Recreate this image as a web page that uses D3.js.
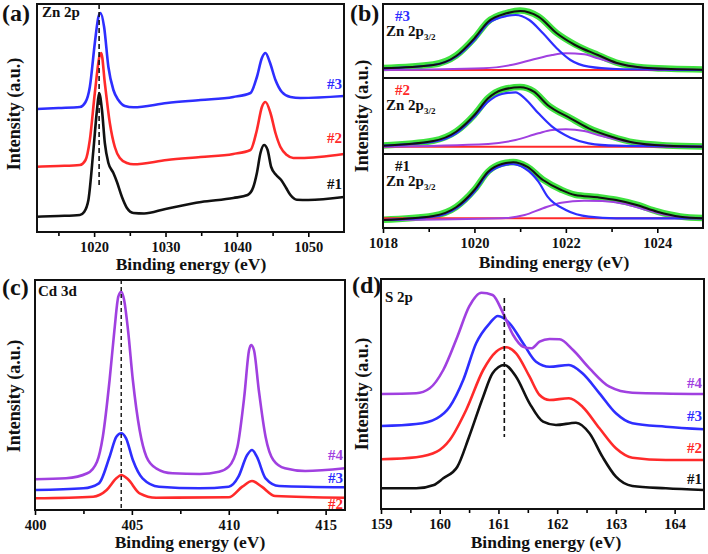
<!DOCTYPE html>
<html>
<head>
<meta charset="utf-8">
<script src="https://cdn.jsdelivr.net/npm/d3@7"></script>
<style>
body { margin: 0; background: #fff; }
text { font-family: "Liberation Serif", "Times New Roman", serif; font-weight: bold; }
</style>
</head>
<body>
<div id="vis"></div>
<script>
// ---- data (binding energy eV, intensity a.u.) ----

// (a) Zn 2p survey
var znA1 = [[1012,15.3],[1015,16],[1018,17],[1018.6,20],[1019.2,32],[1019.9,82],[1020.4,122],[1020.7,139],[1021.1,122],[1021.5,89],[1022.0,69],[1022.7,59],[1023.2,50],[1023.9,35],[1024.6,24],[1025.5,19],[1027,18.5],[1030,23],[1035,30],[1039.5,34],[1041.5,37],[1042.3,45],[1042.8,59],[1043.3,79],[1043.8,87],[1044.3,82],[1044.8,65],[1045.5,57],[1046.2,52],[1046.9,44],[1047.5,37],[1048.4,32.3],[1050,32],[1055,35]];
var znA2 = [[1012,65.3],[1015,66],[1018,67],[1018.8,72],[1019.4,92],[1020.1,139],[1020.8,177],[1021.0,179],[1021.5,149],[1022.2,109],[1022.9,85],[1023.6,74],[1024.6,69],[1025.5,67.7],[1030.2,72],[1034.9,75],[1039.5,78],[1041.9,82],[1042.8,102],[1043.5,125],[1044.0,130],[1044.7,119],[1045.4,99],[1046.1,85],[1047.0,77],[1047.9,74],[1048.9,74],[1055,78]];
var znA3 = [[1012,123],[1015,124],[1018,125],[1018.8,130],[1019.4,145],[1020.1,189],[1020.6,215],[1020.9,219],[1021.4,205],[1022.0,165],[1022.7,142],[1023.4,132],[1024.3,126],[1025.5,124.7],[1030.2,129],[1034.9,132],[1039.5,135],[1041.9,139],[1042.8,155],[1043.5,174],[1044.0,179],[1044.6,170],[1045.4,152],[1046.3,140],[1047.5,135],[1048.9,134],[1055,136]];
var dashA = 1020.7;

// (b) Zn 2p3/2 fits, sample #3 (top)
var b3Data = [[1018,10],[1019.1,13.5],[1019.6,22.5],[1020.0,40],[1020.3,56.5],[1020.7,65],[1021.0,67.5],[1021.4,61.5],[1021.8,45],[1022.2,33.5],[1022.7,23],[1023.1,15.5],[1023.7,10.5],[1024.3,9.2],[1025,8.5]];
var b3Fit = [[1018,9.7],[1019.1,13],[1019.6,22],[1020.0,39.7],[1020.3,56.3],[1020.7,64.7],[1021.0,67],[1021.4,61.3],[1021.8,44.7],[1022.2,33],[1022.7,23],[1023.1,15.3],[1023.7,10.3],[1024.3,9],[1025,8.3]];
var b3Main = [[1018,9.7],[1019.1,13],[1019.6,21.3],[1020.0,38],[1020.3,54.7],[1020.7,62],[1020.9,63],[1021.2,58],[1021.5,44.7],[1021.8,29.7],[1022.1,18],[1022.5,11.3],[1023.1,9],[1025,8]];
var b3Side = [[1018,8],[1020.2,9.7],[1020.8,13],[1021.3,18.7],[1021.7,23],[1022.0,24.7],[1022.4,23.7],[1022.7,19.7],[1023.1,14.7],[1023.7,10.3],[1025,8]];
var b3Base = [[1018,8],[1025,8]];

// (b) sample #2 (middle)
var b2Data = [[1018,8.6],[1019.1,13.3],[1019.6,22.6],[1020.0,39.3],[1020.3,56],[1020.6,64.3],[1021.0,67],[1021.3,62.5],[1021.6,49.3],[1022.1,36],[1022.5,26],[1023.0,17.5],[1023.5,11.5],[1024.2,8.6],[1025,7.6]];
var b2Fit = [[1018,8.3],[1019.1,13],[1019.6,22.3],[1020.0,39],[1020.3,55.7],[1020.6,64],[1021.0,66.7],[1021.3,62.3],[1021.6,49],[1022.1,35.7],[1022.5,25.7],[1023.0,17.3],[1023.5,11.3],[1024.2,8.3],[1025,7.3]];
var b2Main = [[1018,8.3],[1019.1,12.3],[1019.6,20.7],[1020.0,37.3],[1020.3,52.3],[1020.6,60],[1020.9,61.7],[1021.1,55.7],[1021.4,40.7],[1021.7,27.3],[1022.1,16.3],[1022.5,10.7],[1023.1,8.3],[1025,7.3]];
var b2Side = [[1018,7.3],[1020.3,10],[1020.9,14],[1021.4,20.7],[1021.7,24],[1022.0,24.7],[1022.4,23],[1022.7,19],[1023.1,14.7],[1023.7,10],[1025,7.3]];
var b2Base = [[1018,7.3],[1025,7.3]];

// (b) sample #1 (bottom)
var b1Data = [[1018,8.3],[1019.1,12.3],[1019.6,21],[1020.0,38.3],[1020.3,56.5],[1020.6,64.3],[1020.85,66],[1021.15,61.5],[1021.5,48.3],[1021.9,38.3],[1022.2,33.3],[1022.7,31],[1023.1,28.3],[1023.55,23.3],[1024.0,16.5],[1024.5,11.5],[1025,9.9]];
var b1Fit = [[1018,8],[1019.1,12],[1019.6,20.7],[1020.0,38],[1020.3,56.3],[1020.6,64],[1020.85,65.7],[1021.15,61.3],[1021.5,48],[1021.9,38],[1022.2,33],[1022.7,30.7],[1023.1,28],[1023.55,23],[1024.0,16.3],[1024.5,11.3],[1025,9.7]];
var b1Main = [[1018,8],[1019.1,11.3],[1019.6,19.7],[1020.0,36.3],[1020.3,54.7],[1020.6,62.3],[1020.8,64],[1021.1,59.7],[1021.4,46.3],[1021.6,31.3],[1022.0,18],[1022.5,11.3],[1023.1,9.7],[1025,9.7]];
var b1Side = [[1018,8],[1020.6,9.7],[1021.1,13],[1021.5,19.7],[1021.9,25.3],[1022.4,27.3],[1022.8,27],[1023.3,24],[1023.7,18.7],[1024.2,13],[1025,9.7]];
var b1Base = [[1018,9.7],[1025,9.7]];

// (c) Cd 3d
var cd4 = [[400,30.7],[401.6,31.7],[402.7,36.7],[403.2,48.3],[403.5,73.3],[403.85,130],[404.1,180],[404.3,213.3],[404.45,218.3],[404.6,210],[404.8,180],[405.05,130],[405.4,80],[405.75,53.3],[406.25,41.7],[407.1,36.7],[408.5,36],[409.5,38.3],[410.0,43.3],[410.45,63.3],[410.8,113.3],[411.05,160],[411.15,165],[411.3,160],[411.55,120],[411.9,73.3],[412.3,50],[412.9,41.7],[413.95,39],[416,41.7]];
var cd3 = [[400,20],[402.5,21.7],[403.3,26.7],[403.85,53.3],[404.2,73.3],[404.45,76.7],[404.7,71.7],[405.05,50],[405.55,31.7],[406.4,23.3],[408.5,21.7],[410.0,23.3],[410.5,33.3],[410.95,55],[411.2,60],[411.45,53.3],[411.9,31.7],[412.6,24],[416,22.7]];
var cd2 = [[400,11.7],[403,13.3],[403.7,20],[404.2,31.7],[404.45,35],[404.8,30.7],[405.4,16.7],[406.25,12.3],[410.0,12.7],[410.7,23.3],[411.2,29],[411.7,23.3],[412.4,14],[416,12.3]];
var dashC = 404.45;

// (d) S 2p
var s1 = [[159,20.7],[159.6,20.7],[159.9,24],[160.06,30.7],[160.3,42.3],[160.5,72.3],[160.74,112.3],[160.9,135.7],[161.1,144],[161.3,132.3],[161.53,105.7],[161.76,87.3],[161.98,84],[162.32,86.3],[162.55,75.7],[162.77,52.3],[163.0,32.3],[163.28,23],[163.85,20.7],[164.5,19]];
var s2 = [[159,49.7],[159.6,51.7],[159.95,57.3],[160.17,69],[160.45,99],[160.74,139],[160.96,157.3],[161.13,161.7],[161.3,155.7],[161.53,132.3],[161.7,114],[161.87,109],[162.2,110.7],[162.43,102.3],[162.72,80.7],[163.0,60.7],[163.28,51.3],[163.85,49],[164.5,49]];
var s3 = [[159,83],[159.6,85],[159.95,90.7],[160.17,102.3],[160.4,129],[160.62,165.7],[160.85,185.7],[160.99,193],[161.19,185.7],[161.42,165.7],[161.64,147.3],[161.87,142.3],[162.2,144],[162.43,135.7],[162.72,115.7],[163.0,95.7],[163.28,85.7],[163.85,82.3],[164.5,79.7]];
var s4 = [[159,115],[159.6,115.7],[159.83,120.7],[160.06,139],[160.3,172.3],[160.5,202.3],[160.71,216.3],[160.9,214],[161.08,195.7],[161.25,174],[161.42,162.3],[161.56,160.7],[161.7,167.3],[161.87,170],[162.04,169.7],[162.27,159],[162.55,140.7],[162.89,122.3],[163.28,116.3],[164.5,115]];
var dashD = 161.1;

// tick values
var ticksA = [1020, 1030, 1040, 1050], minorA = [1015, 1025, 1035, 1045];
var ticksB = [1018, 1020, 1022, 1024], minorB = [1019, 1021, 1023];
var ticksC = [400, 405, 410, 415], minorC = [402.5, 407.5, 412.5];
var ticksD = [159, 160, 161, 162, 163, 164], minorD = [159.5, 160.5, 161.5, 162.5, 163.5];

var BLACK = "#111", RED = "#ff2a2a", BLUE = "#2e2eff", PURPLE = "#a040e0", GREEN = "#3fe23f";

var svg = d3.select("#vis").append("svg")
  .attr("width", 708)
  .attr("height", 554);

// bottom axis with major + minor ticks, framed box
function axisAndFrame(x, top, bottom, major, minor) {
  var ax = svg.append("g")
    .attr("transform", `translate(0, ${bottom})`)
    .call(d3.axisBottom(x).tickValues(major).tickSize(5).tickPadding(5).tickFormat(d3.format("d")));
  ax.select(".domain").remove();
  ax.selectAll("line").attr("stroke-width", 1.6);
  ax.selectAll("text").style("font-size", "14.5px").attr("fill", "#111");

  var mn = svg.append("g")
    .attr("transform", `translate(0, ${bottom})`)
    .call(d3.axisBottom(x).tickValues(minor).tickSize(4).tickFormat(""));
  mn.select(".domain").remove();
  mn.selectAll("line").attr("stroke-width", 1.6);

  svg.append("rect")
    .attr("x", x.range()[0]).attr("y", top)
    .attr("width", x.range()[1] - x.range()[0]).attr("height", bottom - top)
    .attr("fill", "none").attr("stroke", "#111").attr("stroke-width", 2);
}

function clipGroup(id, x0, y0, x1, y1) {
  svg.append("clipPath").attr("id", id)
    .append("rect").attr("x", x0).attr("y", y0).attr("width", x1 - x0).attr("height", y1 - y0);
  return svg.append("g").attr("clip-path", `url(#${id})`);
}

function drawLine(g, x, y, data, color, w) {
  var line = d3.line()
    .x(d => x(d[0]))
    .y(d => y(d[1]))
    .curve(d3.curveMonotoneX);
  g.append("path")
    .datum(data)
    .attr("d", line)
    .attr("fill", "none")
    .attr("stroke", color)
    .attr("stroke-width", w)
    .attr("stroke-linejoin", "round")
    .attr("stroke-linecap", "round");
}

function label(x, y, str, size, color, anchor) {
  return svg.append("text")
    .attr("x", x).attr("y", y)
    .attr("text-anchor", anchor || "start")
    .attr("fill", color || "#111")
    .style("font-size", size + "px")
    .text(str);
}

function yTitle(x, cy) {
  svg.append("text")
    .attr("transform", `translate(${x}, ${cy}) rotate(-90)`)
    .attr("text-anchor", "middle")
    .attr("fill", "#111")
    .style("font-size", "18px")
    .text("Intensity (a.u.)");
}

// ---------- (a) ----------
var xa = d3.scaleLinear().domain([1012, 1055]).range([37, 344]);
var ya = d3.scaleLinear().domain([0, 228]).range([232, 4]);
var ga = clipGroup("clipA", 37, 4, 344, 232);
drawLine(ga, xa, ya, znA1, BLACK, 2.6);
drawLine(ga, xa, ya, znA2, RED, 2.6);
drawLine(ga, xa, ya, znA3, BLUE, 2.6);
ga.append("line")
  .attr("x1", xa(dashA)).attr("x2", xa(dashA))
  .attr("y1", 4).attr("y2", 186)
  .attr("stroke", "#111").attr("stroke-width", 1.6).attr("stroke-dasharray", "5,3");
axisAndFrame(xa, 4, 232, ticksA, minorA);
label(2, 21, "(a)", 24);
label(42, 17, "Zn 2p", 15);
label(342, 89, "#3", 15, BLUE, "end");
label(342, 143, "#2", 15, RED, "end");
label(342, 189, "#1", 15, BLACK, "end");
yTitle(20, 114);
label(191, 270, "Binding energy (eV)", 17.5, "#111", "middle");

// ---------- (b) ----------
var xb = d3.scaleLinear().domain([1018, 1025]).range([383, 703]);
var subs = [
  {t: 4, b: 78, data: b3Data, fit: b3Fit, main: b3Main, side: b3Side, base: b3Base, name: "#3", col: BLUE},
  {t: 78, b: 154, data: b2Data, fit: b2Fit, main: b2Main, side: b2Side, base: b2Base, name: "#2", col: RED},
  {t: 154, b: 228, data: b1Data, fit: b1Fit, main: b1Main, side: b1Side, base: b1Base, name: "#1", col: BLACK}
];
subs.forEach(function(s, i) {
  var yb = d3.scaleLinear().domain([0, s.b - s.t]).range([s.b, s.t]);
  var gb = clipGroup("clipB" + i, 383, s.t, 703, s.b);
  drawLine(gb, xb, yb, s.data, GREEN, 6.5);
  drawLine(gb, xb, yb, s.base, RED, 2);
  drawLine(gb, xb, yb, s.side, PURPLE, 2);
  drawLine(gb, xb, yb, s.main, BLUE, 2.2);
  drawLine(gb, xb, yb, s.fit, BLACK, 2);
  label(395, s.t + 17, s.name, 15, s.col);
  var z = label(386, s.t + 32, "Zn 2p", 15);
  z.append("tspan").attr("dy", 4).style("font-size", "9px").text("3/2");
  if (i > 0) {
    svg.append("line").attr("x1", 383).attr("x2", 703).attr("y1", s.t).attr("y2", s.t)
      .attr("stroke", "#111").attr("stroke-width", 2);
  }
});
axisAndFrame(xb, 4, 228, ticksB, minorB);
label(350, 21, "(b)", 24);
yTitle(368, 116);
label(554, 268, "Binding energy (eV)", 17.5, "#111", "middle");

// ---------- (c) ----------
var xc = d3.scaleLinear().domain([400, 416]).range([35, 345]);
var yc = d3.scaleLinear().domain([0, 230]).range([510, 280]);
var gc = clipGroup("clipC", 35, 280, 345, 510);
drawLine(gc, xc, yc, cd2, RED, 2.6);
drawLine(gc, xc, yc, cd3, BLUE, 2.6);
drawLine(gc, xc, yc, cd4, PURPLE, 2.6);
gc.append("line")
  .attr("x1", xc(dashC)).attr("x2", xc(dashC))
  .attr("y1", 280).attr("y2", 510)
  .attr("stroke", "#111").attr("stroke-width", 1.4).attr("stroke-dasharray", "4,3");
axisAndFrame(xc, 280, 510, ticksC, minorC);
label(2, 295, "(c)", 24);
label(38, 296, "Cd 3d", 15);
label(343, 460, "#4", 15, PURPLE, "end");
label(343, 483, "#3", 15, BLUE, "end");
label(343, 509, "#2", 15, RED, "end");
yTitle(20, 396);
label(190, 548, "Binding energy (eV)", 17.5, "#111", "middle");

// ---------- (d) ----------
var xd = d3.scaleLinear().domain([159, 164.5]).range([381, 704]);
var yd = d3.scaleLinear().domain([0, 230]).range([509, 279]);
var gd = clipGroup("clipD", 381, 279, 704, 509);
drawLine(gd, xd, yd, s1, BLACK, 2.6);
drawLine(gd, xd, yd, s2, RED, 2.6);
drawLine(gd, xd, yd, s3, BLUE, 2.6);
drawLine(gd, xd, yd, s4, PURPLE, 2.6);
gd.append("line")
  .attr("x1", xd(dashD)).attr("x2", xd(dashD))
  .attr("y1", 298).attr("y2", 437)
  .attr("stroke", "#111").attr("stroke-width", 1.6).attr("stroke-dasharray", "5,3");
axisAndFrame(xd, 279, 509, ticksD, minorD);
label(352, 293, "(d)", 24);
label(385, 302, "S 2p", 15);
label(702, 388, "#4", 15, PURPLE, "end");
label(702, 421, "#3", 15, BLUE, "end");
label(702, 453, "#2", 15, RED, "end");
label(702, 484, "#1", 15, BLACK, "end");
yTitle(368, 394);
label(546, 548, "Binding energy (eV)", 17.5, "#111", "middle");
</script>
</body>
</html>
